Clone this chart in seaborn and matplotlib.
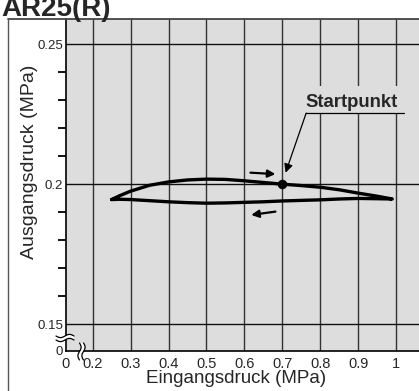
import numpy as np
import pandas as pd
import matplotlib
matplotlib.use("Agg")
import matplotlib.pyplot as plt
import seaborn as sns
from matplotlib.lines import Line2D
from matplotlib.patches import Rectangle, Polygon

# ---------------- data ----------------
upper_x = [0.25, 0.27, 0.30, 0.35, 0.40, 0.45, 0.50, 0.55, 0.60, 0.65, 0.70, 0.75, 0.80, 0.85, 0.90, 0.95, 0.99]
upper_y = [0.1945, 0.1958, 0.1975, 0.1996, 0.2008, 0.2015, 0.2018, 0.2017, 0.2012, 0.2006, 0.2000, 0.1995, 0.1989, 0.1980, 0.1968, 0.1957, 0.1947]
lower_x = [0.99, 0.95, 0.90, 0.85, 0.80, 0.75, 0.70, 0.65, 0.60, 0.55, 0.50, 0.45, 0.40, 0.35, 0.30, 0.27, 0.25]
lower_y = [0.1947, 0.1948, 0.1949, 0.1947, 0.1944, 0.1942, 0.1940, 0.1937, 0.1935, 0.1933, 0.1932, 0.1934, 0.1937, 0.1941, 0.1945, 0.1946, 0.1945]
start_x = [0.70]
start_y = [0.200]

x_ticks = [0.2, 0.3, 0.4, 0.5, 0.6, 0.7, 0.8, 0.9, 1.0]
x_tick_labels = ["0.2", "0.3", "0.4", "0.5", "0.6", "0.7", "0.8", "0.9", "1"]
y_ticks = [0.15, 0.20, 0.25]
y_tick_labels = ["0.15", "0.2", "0.25"]
y_minor = [0.16, 0.17, 0.18, 0.19, 0.21, 0.22, 0.23, 0.24]

title = "AR25(R)"
x_label = "Eingangsdruck (MPa)"
y_label = "Ausgangsdruck (MPa)"
start_label = "Startpunkt"

# ---------------- style ----------------
sns.set_style("white")
plt.rcParams["font.family"] = ["Liberation Sans", "DejaVu Sans"]

W, H = 419, 391
fig = plt.figure(figsize=(W / 100, H / 100), dpi=100)
fig.patch.set_facecolor("white")

def fpx(x, y):
    return (x / W, 1 - y / H)

ax_l, ax_r, ax_t, ax_b = 66, 419, 19, 351
ax = fig.add_axes([ax_l / W, 1 - ax_b / H, (ax_r - ax_l) / W, (ax_b - ax_t) / H])
bg = "#dddddd"
ax.set_facecolor(bg)

x0, x1 = 0.1297, 1.0605
y0, y1 = 0.1404, 0.2590
ax.set_xlim(x0, x1)
ax.set_ylim(y0, y1)

# grid
for xv in x_ticks:
    ax.axvline(xv, color="#333333", lw=1.0, zorder=1)
for yv in y_ticks:
    ax.axhline(yv, color="#111111", lw=1.0, zorder=1)

# mask behind the label
ax.add_patch(Rectangle((0.755, 0.2254), 0.30, 0.0096, facecolor=bg, edgecolor="none", zorder=2))

# curve
loop = pd.DataFrame({"x": upper_x + lower_x[1:], "y": upper_y + lower_y[1:]})
loop["order"] = np.arange(len(loop))
sns.lineplot(data=loop, x="x", y="y", sort=False, estimator=None, color="black", lw=2.4, ax=ax, zorder=4)
sns.scatterplot(x=start_x, y=start_y, color="black", s=40, edgecolor="black", ax=ax, zorder=5)

# direction arrows
ax.annotate("", xy=(0.682, 0.2036), xytext=(0.616, 0.2041),
            arrowprops=dict(arrowstyle="-|>", color="black", lw=1.6, mutation_scale=11, shrinkA=0, shrinkB=0), zorder=5)
ax.annotate("", xy=(0.618, 0.1890), xytext=(0.682, 0.1902),
            arrowprops=dict(arrowstyle="-|>", color="black", lw=1.6, mutation_scale=11, shrinkA=0, shrinkB=0), zorder=5)

# Startpunkt label
ax.text(0.762, 0.2263, start_label, ha="left", va="bottom", fontsize=13.3, fontweight="bold", zorder=6)
ax.plot([0.763, 1.022], [0.2254, 0.2254], color="black", lw=0.9, zorder=6)
ax.annotate("", xy=(0.7087, 0.2041), xytext=(0.763, 0.2254),
            arrowprops=dict(arrowstyle="-|>", color="black", lw=0.9, mutation_scale=13, shrinkA=0, shrinkB=0), zorder=6)

# ticks
ax.set_xticks([x0] + x_ticks)
ax.set_xticklabels(["0"] + x_tick_labels, fontsize=10.5)
ax.set_yticks([y0] + y_ticks)
ax.set_yticklabels(["0"] + y_tick_labels, fontsize=9.5)
ax.set_yticks(y_minor, minor=True)
ax.tick_params(axis="x", which="major", length=0, pad=4)
ax.tick_params(axis="y", which="major", length=0, pad=2)
ax.tick_params(axis="y", which="minor", left=True, length=6, width=1.3, color="black", direction="out")

for s in ["top", "right"]:
    ax.spines[s].set_visible(False)
for s in ["left", "bottom"]:
    ax.spines[s].set_color("black")
    ax.spines[s].set_linewidth(1.2)

ax.set_xlabel(x_label, fontsize=13.5)
ax.set_ylabel(y_label, fontsize=14)
ax.xaxis.set_label_coords((236.5 - ax_l) / (ax_r - ax_l), (ax_b - 370) / (ax_b - ax_t))
ax.yaxis.set_label_coords((38 - ax_l) / (ax_r - ax_l), (ax_b - 162) / (ax_b - ax_t))

# outer frame
fig.add_artist(Line2D([8 / W, 1], [1 - 19 / H, 1 - 19 / H], transform=fig.transFigure, color="#444444", lw=1.3))
fig.add_artist(Line2D([8 / W, 8 / W], [0, 1 - 19 / H], transform=fig.transFigure, color="#555555", lw=1.0))

# title (partly clipped at the top, as in the original)
fig.text(1 / W, 1 - 16 / H, title, ha="left", va="baseline", fontsize=20, fontweight="bold")

# axis break marks
t = np.linspace(0, 1, 40)
xs = 56 + 18 * t
ya = 336 + 1.6 * np.sin(2 * np.pi * t)
yb = 340 + 1.6 * np.sin(2 * np.pi * t)
pts = [fpx(a, b) for a, b in zip(xs, ya)] + [fpx(a, b) for a, b in zip(xs[::-1], yb[::-1])]
fig.add_artist(Polygon(pts, closed=True, transform=fig.transFigure, facecolor="white", edgecolor="none", zorder=10))
for yy in (ya, yb):
    P = [fpx(a, b) for a, b in zip(xs, yy)]
    fig.add_artist(Line2D([p[0] for p in P], [p[1] for p in P], transform=fig.transFigure, color="black", lw=0.9, zorder=11))
ys = 343 + 17 * t
xa = 79.5 + 1.6 * np.sin(2 * np.pi * t)
xb = 83.5 + 1.6 * np.sin(2 * np.pi * t)
pts = [fpx(a, b) for a, b in zip(xa, ys)] + [fpx(a, b) for a, b in zip(xb[::-1], ys[::-1])]
fig.add_artist(Polygon(pts, closed=True, transform=fig.transFigure, facecolor="white", edgecolor="none", zorder=10))
for xx in (xa, xb):
    P = [fpx(a, b) for a, b in zip(xx, ys)]
    fig.add_artist(Line2D([p[0] for p in P], [p[1] for p in P], transform=fig.transFigure, color="black", lw=0.9, zorder=11))

fig.savefig("out.png", dpi=100)
